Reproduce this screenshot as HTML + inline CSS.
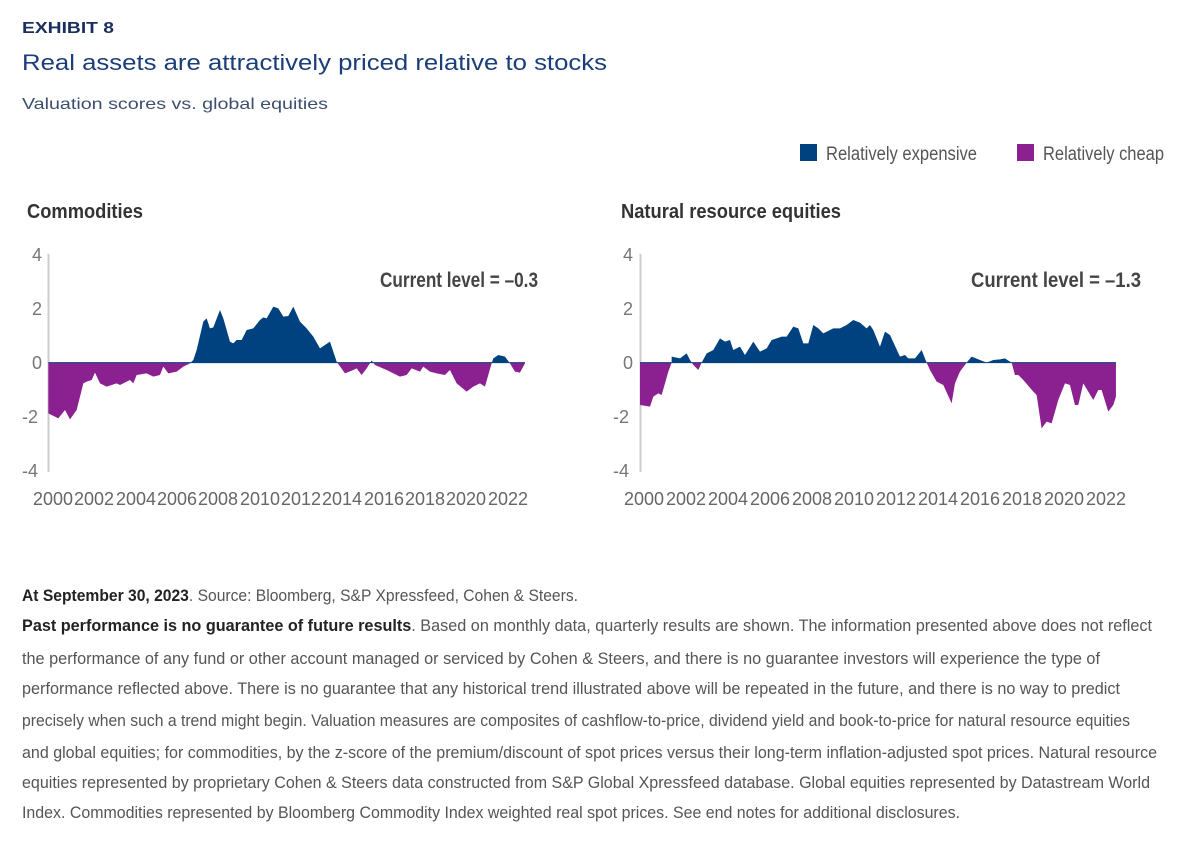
<!DOCTYPE html>
<html><head><meta charset="utf-8"><style>
body{margin:0;background:#fff;}
svg{display:block;}
text{font-family:"Liberation Sans Narrow","Liberation Sans",sans-serif;}
</style></head><body>
<svg width="1200" height="842" viewBox="0 0 1200 842" xmlns="http://www.w3.org/2000/svg">
<defs>
<clipPath id="pos"><rect x="0" y="0" width="1700" height="368"/></clipPath>
<clipPath id="neg"><rect x="0" y="368" width="1700" height="400"/></clipPath>
</defs>
<text x="22" y="33" font-size="16" font-weight="bold" fill="#1b2f5e" style="font-family:'Liberation Sans',sans-serif" textLength="92" lengthAdjust="spacingAndGlyphs">EXHIBIT 8</text>
<text x="22" y="70" font-size="22" fill="#1b3d7a" style="font-family:'Liberation Sans',sans-serif" textLength="585" lengthAdjust="spacingAndGlyphs">Real assets are attractively priced relative to stocks</text>
<text x="22" y="109" font-size="16" fill="#3d4f6e" style="font-family:'Liberation Sans',sans-serif" textLength="306" lengthAdjust="spacingAndGlyphs">Valuation scores vs. global equities</text>

<rect x="800" y="144" width="17" height="17" fill="#00427f"/>
<text x="826" y="160" font-size="19" fill="#555" textLength="151" lengthAdjust="spacingAndGlyphs">Relatively expensive</text>
<rect x="1017" y="144" width="17" height="17" fill="#8b2190"/>
<text x="1043" y="160" font-size="19" fill="#555" textLength="121" lengthAdjust="spacingAndGlyphs">Relatively cheap</text>

<text x="27" y="218" font-size="20" font-weight="bold" fill="#333" textLength="116" lengthAdjust="spacingAndGlyphs">Commodities</text>
<text x="621" y="218" font-size="20" font-weight="bold" fill="#333" textLength="220" lengthAdjust="spacingAndGlyphs">Natural resource equities</text>

<!-- Left chart -->
<g fill="#777" font-size="18">
<text x="32" y="261">4</text><text x="32" y="315">2</text><text x="32" y="369">0</text><text x="22" y="423">-2</text><text x="22" y="477">-4</text>
</g>
<line x1="48.5" y1="254" x2="48.5" y2="472" stroke="#ccc" stroke-width="2"/>
<g transform="translate(20,240) scale(0.3333)">
<polygon points="85,368 85,520 115,535 135,510 150,538 170,510 190,430 200,425 215,420 225,398 240,430 260,440 290,430 300,435 330,420 340,430 350,405 380,400 400,410 420,405 430,380 445,400 470,395 490,380 510,370 520,360 530,330 550,245 560,235 570,265 580,262 600,210 610,235 630,305 640,310 650,300 665,300 680,270 700,265 720,240 730,232 740,235 760,200 775,205 790,230 805,228 820,200 840,245 860,265 880,290 900,325 915,315 930,305 950,365 975,400 1000,390 1010,385 1025,405 1040,385 1055,362 1065,375 1100,390 1140,410 1160,405 1175,385 1200,395 1210,380 1230,395 1250,400 1275,405 1290,390 1310,430 1340,455 1360,440 1380,430 1395,440 1415,370 1420,355 1435,345 1455,350 1470,370 1485,395 1500,398 1515,370 1515,368" fill="#00427f" clip-path="url(#pos)"/>
<polygon points="85,368 85,520 115,535 135,510 150,538 170,510 190,430 200,425 215,420 225,398 240,430 260,440 290,430 300,435 330,420 340,430 350,405 380,400 400,410 420,405 430,380 445,400 470,395 490,380 510,370 520,360 530,330 550,245 560,235 570,265 580,262 600,210 610,235 630,305 640,310 650,300 665,300 680,270 700,265 720,240 730,232 740,235 760,200 775,205 790,230 805,228 820,200 840,245 860,265 880,290 900,325 915,315 930,305 950,365 975,400 1000,390 1010,385 1025,405 1040,385 1055,362 1065,375 1100,390 1140,410 1160,405 1175,385 1200,395 1210,380 1230,395 1250,400 1275,405 1290,390 1310,430 1340,455 1360,440 1380,430 1395,440 1415,370 1420,355 1435,345 1455,350 1470,370 1485,395 1500,398 1515,370 1515,368" fill="#8b2190" clip-path="url(#neg)"/>
<line x1="85" y1="368" x2="1515" y2="368" stroke="#00427f" stroke-width="3"/>
</g>
<text x="380" y="287" font-size="21" font-weight="bold" fill="#444" textLength="158" lengthAdjust="spacingAndGlyphs">Current level = –0.3</text>
<g fill="#666" font-size="18">
<text x="33" y="505" textLength="40" lengthAdjust="spacingAndGlyphs">2000</text><text x="74" y="505" textLength="40" lengthAdjust="spacingAndGlyphs">2002</text><text x="116" y="505" textLength="40" lengthAdjust="spacingAndGlyphs">2004</text><text x="157" y="505" textLength="40" lengthAdjust="spacingAndGlyphs">2006</text><text x="198" y="505" textLength="40" lengthAdjust="spacingAndGlyphs">2008</text><text x="240" y="505" textLength="40" lengthAdjust="spacingAndGlyphs">2010</text><text x="281" y="505" textLength="40" lengthAdjust="spacingAndGlyphs">2012</text><text x="322" y="505" textLength="40" lengthAdjust="spacingAndGlyphs">2014</text><text x="364" y="505" textLength="40" lengthAdjust="spacingAndGlyphs">2016</text><text x="405" y="505" textLength="40" lengthAdjust="spacingAndGlyphs">2018</text><text x="446" y="505" textLength="40" lengthAdjust="spacingAndGlyphs">2020</text><text x="488" y="505" textLength="40" lengthAdjust="spacingAndGlyphs">2022</text>
</g>

<!-- Right chart -->
<g fill="#777" font-size="18">
<text x="623" y="261">4</text><text x="623" y="315">2</text><text x="623" y="369">0</text><text x="613" y="423">-2</text><text x="613" y="477">-4</text>
</g>
<line x1="640.5" y1="254" x2="640.5" y2="472" stroke="#ccc" stroke-width="2"/>
<g transform="translate(600,240) scale(0.3333)">
<polygon points="120,368 120,495 150,500 160,470 175,460 185,465 205,395 215,368 215,350 240,355 260,340 270,360 280,375 295,390 305,368 320,340 340,330 360,295 375,305 390,300 400,330 420,320 435,345 460,305 480,335 500,325 515,300 530,295 545,290 560,290 580,260 595,265 610,310 625,310 640,255 655,265 670,280 700,265 720,265 740,255 760,240 780,248 800,265 810,255 820,270 840,320 855,275 870,285 900,350 915,345 925,355 945,355 965,330 980,368 990,390 1010,425 1030,435 1055,490 1065,430 1080,395 1100,368 1115,350 1140,360 1160,368 1180,360 1200,358 1215,355 1225,362 1235,368 1245,405 1255,405 1270,420 1300,455 1310,465 1325,565 1340,545 1355,550 1375,480 1395,430 1410,435 1425,495 1435,495 1450,430 1465,455 1480,480 1495,450 1505,450 1525,515 1540,495 1548,470 1548,368" fill="#00427f" clip-path="url(#pos)"/>
<polygon points="120,368 120,495 150,500 160,470 175,460 185,465 205,395 215,368 215,350 240,355 260,340 270,360 280,375 295,390 305,368 320,340 340,330 360,295 375,305 390,300 400,330 420,320 435,345 460,305 480,335 500,325 515,300 530,295 545,290 560,290 580,260 595,265 610,310 625,310 640,255 655,265 670,280 700,265 720,265 740,255 760,240 780,248 800,265 810,255 820,270 840,320 855,275 870,285 900,350 915,345 925,355 945,355 965,330 980,368 990,390 1010,425 1030,435 1055,490 1065,430 1080,395 1100,368 1115,350 1140,360 1160,368 1180,360 1200,358 1215,355 1225,362 1235,368 1245,405 1255,405 1270,420 1300,455 1310,465 1325,565 1340,545 1355,550 1375,480 1395,430 1410,435 1425,495 1435,495 1450,430 1465,455 1480,480 1495,450 1505,450 1525,515 1540,495 1548,470 1548,368" fill="#8b2190" clip-path="url(#neg)"/>
<line x1="120" y1="368" x2="1548" y2="368" stroke="#00427f" stroke-width="3"/>
</g>
<text x="971" y="287" font-size="21" font-weight="bold" fill="#444" textLength="170" lengthAdjust="spacingAndGlyphs">Current level = –1.3</text>
<g fill="#666" font-size="18">
<text x="624" y="505" textLength="40" lengthAdjust="spacingAndGlyphs">2000</text><text x="666" y="505" textLength="40" lengthAdjust="spacingAndGlyphs">2002</text><text x="708" y="505" textLength="40" lengthAdjust="spacingAndGlyphs">2004</text><text x="750" y="505" textLength="40" lengthAdjust="spacingAndGlyphs">2006</text><text x="792" y="505" textLength="40" lengthAdjust="spacingAndGlyphs">2008</text><text x="834" y="505" textLength="40" lengthAdjust="spacingAndGlyphs">2010</text><text x="876" y="505" textLength="40" lengthAdjust="spacingAndGlyphs">2012</text><text x="918" y="505" textLength="40" lengthAdjust="spacingAndGlyphs">2014</text><text x="960" y="505" textLength="40" lengthAdjust="spacingAndGlyphs">2016</text><text x="1002" y="505" textLength="40" lengthAdjust="spacingAndGlyphs">2018</text><text x="1044" y="505" textLength="40" lengthAdjust="spacingAndGlyphs">2020</text><text x="1086" y="505" textLength="40" lengthAdjust="spacingAndGlyphs">2022</text>
</g>

<!-- Footnotes -->
<g font-size="17" fill="#555">
<text x="22" y="601" textLength="556" lengthAdjust="spacingAndGlyphs"><tspan font-weight="bold" fill="#222">At September 30, 2023</tspan>. Source: Bloomberg, S&amp;P Xpressfeed, Cohen &amp; Steers.</text>
<text x="22" y="631" textLength="1130" lengthAdjust="spacingAndGlyphs"><tspan font-weight="bold" fill="#222">Past performance is no guarantee of future results</tspan>. Based on monthly data, quarterly results are shown. The information presented above does not reflect</text>
<text x="22" y="664" textLength="1078" lengthAdjust="spacingAndGlyphs">the performance of any fund or other account managed or serviced by Cohen &amp; Steers, and there is no guarantee investors will experience the type of</text>
<text x="22" y="694" textLength="1098" lengthAdjust="spacingAndGlyphs">performance reflected above. There is no guarantee that any historical trend illustrated above will be repeated in the future, and there is no way to predict</text>
<text x="22" y="726" textLength="1108" lengthAdjust="spacingAndGlyphs">precisely when such a trend might begin. Valuation measures are composites of cashflow-to-price, dividend yield and book-to-price for natural resource equities</text>
<text x="22" y="758" textLength="1135" lengthAdjust="spacingAndGlyphs">and global equities; for commodities, by the z-score of the premium/discount of spot prices versus their long-term inflation-adjusted spot prices. Natural resource</text>
<text x="22" y="788" textLength="1128" lengthAdjust="spacingAndGlyphs">equities represented by proprietary Cohen &amp; Steers data constructed from S&amp;P Global Xpressfeed database. Global equities represented by Datastream World</text>
<text x="22" y="818" textLength="938" lengthAdjust="spacingAndGlyphs">Index. Commodities represented by Bloomberg Commodity Index weighted real spot prices. See end notes for additional disclosures.</text>
</g>
</svg>
</body></html>
